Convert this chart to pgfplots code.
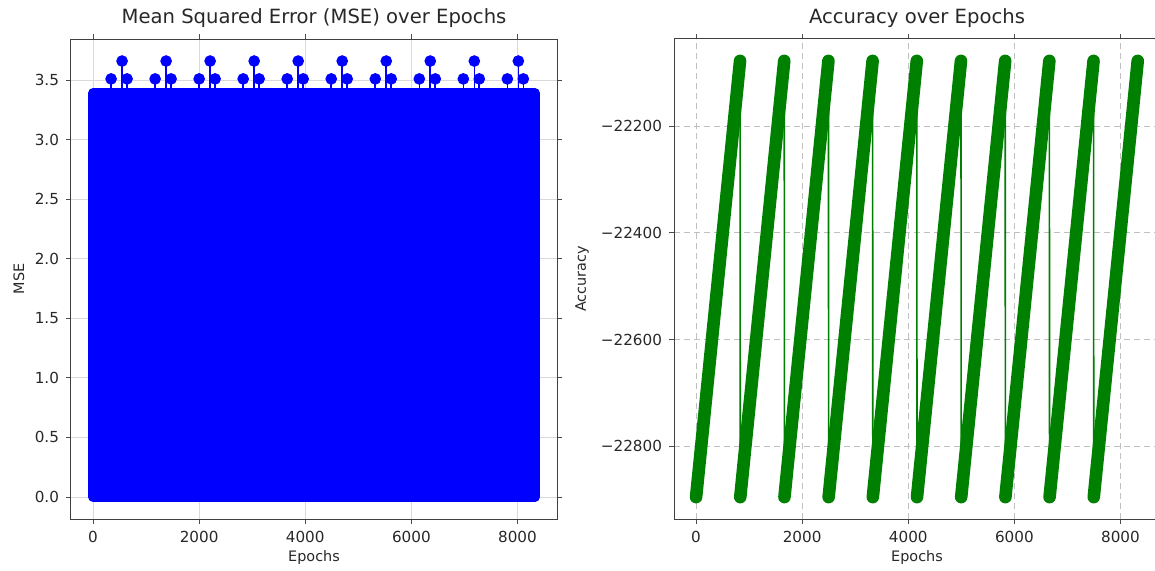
\documentclass[border=0pt]{standalone}
\usepackage{fontspec}
\setmainfont{DejaVu Sans}
\usepackage{pgfplots}
\pgfplotsset{compat=1.18}
\definecolor{mplblue}{RGB}{0,0,255}
\definecolor{mplgreen}{RGB}{0,128,0}
\definecolor{txt}{RGB}{40,40,40}

\pgfplotsset{
  every axis title shift=0pt,
  base/.style={
    scale only axis, width=243pt, height=240pt,
    xmin=-416, xmax=8746,
    xtick={0,2000,4000,6000,8000},
    xticklabels={0,2000,4000,6000,8000},
    scaled ticks=false,
    tick align=outside, major tick length=2.5pt,
    tick style={black!70, line width=0.4pt},
    axis line style={black!75, line width=0.5pt},
    grid=major,
    ticklabel style={font=\fontsize{7.6}{8}\selectfont, text=txt},
    label style={font=\fontsize{7.2}{8}\selectfont, text=txt},
    title style={font=\fontsize{9.8}{11}\selectfont, text=txt,
      at={(axis description cs:0.5,1.044)}, anchor=center},
    xlabel={Epochs},
    xlabel style={at={(axis description cs:0.5,-0.081)}, anchor=center},
    clip=false,
  }
}

\begin{document}
\begin{tikzpicture}
% left: MSE
\begin{axis}[base, at={(35.5pt,25.5pt)}, anchor=south west,
  title={Mean Squared Error (MSE) over Epochs},
  ymin=-0.185, ymax=3.845,
  ytick={0,0.5,1,1.5,2,2.5,3,3.5},
  yticklabels={0.0,0.5,1.0,1.5,2.0,2.5,3.0,3.5},
  ylabel={MSE},
  ylabel style={at={(axis description cs:-0.107,0.5)}, anchor=center},
  major grid style={gray!30, line width=0.4pt}]
\addplot[draw=mplblue, fill=mplblue, line width=5pt, line join=round]
  coordinates {(0,3.39) (8330,3.39)} \closedcycle;
\addplot[mplblue, ycomb, line width=0.8pt, mark=*, mark size=2.5pt]
  coordinates {
  (340,3.51) (547,3.66) (641,3.51)
  (1170,3.51) (1377,3.66) (1471,3.51)
  (2000,3.51) (2207,3.66) (2301,3.51)
  (2830,3.51) (3037,3.66) (3131,3.51)
  (3660,3.51) (3867,3.66) (3961,3.51)
  (4490,3.51) (4697,3.66) (4791,3.51)
  (5320,3.51) (5527,3.66) (5621,3.51)
  (6150,3.51) (6357,3.66) (6451,3.51)
  (6980,3.51) (7187,3.66) (7281,3.51)
  (7810,3.51) (8017,3.66) (8111,3.51)};
\end{axis}

% right: accuracy
\begin{axis}[base, at={(337pt,25.5pt)}, anchor=south west,
  title={Accuracy over Epochs},
  ymin=-22936, ymax=-22037,
  ytick={-22800,-22600,-22400,-22200},
  yticklabels={−22800,−22600,−22400,−22200},
  ylabel={Accuracy},
  ylabel style={at={(axis description cs:-0.189,0.5)}, anchor=center},
  major grid style={gray!50, densely dashed, line width=0.4pt},
  unbounded coords=jump]
\addplot[mplgreen, line width=0.8pt] coordinates {
  (0,-22895) (829,-22078) (833,-22895) (1662,-22078)
  (1666,-22895) (2495,-22078) (2499,-22895) (3328,-22078)
  (3332,-22895) (4161,-22078) (4165,-22895) (4994,-22078)
  (4998,-22895) (5827,-22078) (5831,-22895) (6660,-22078)
  (6664,-22895) (7493,-22078) (7497,-22895) (8326,-22078)};
\addplot[mplgreen, line width=6.3pt, line cap=round] coordinates {
  (0,-22895) (829,-22078) (830,nan)
  (833,-22895) (1662,-22078) (1663,nan)
  (1666,-22895) (2495,-22078) (2496,nan)
  (2499,-22895) (3328,-22078) (3329,nan)
  (3332,-22895) (4161,-22078) (4162,nan)
  (4165,-22895) (4994,-22078) (4995,nan)
  (4998,-22895) (5827,-22078) (5828,nan)
  (5831,-22895) (6660,-22078) (6661,nan)
  (6664,-22895) (7493,-22078) (7494,nan)
  (7497,-22895) (8326,-22078)};
\end{axis}
\pgfresetboundingbox
\path[use as bounding box] (0,0) rectangle (577.5pt,285pt);
\end{tikzpicture}
\end{document}
